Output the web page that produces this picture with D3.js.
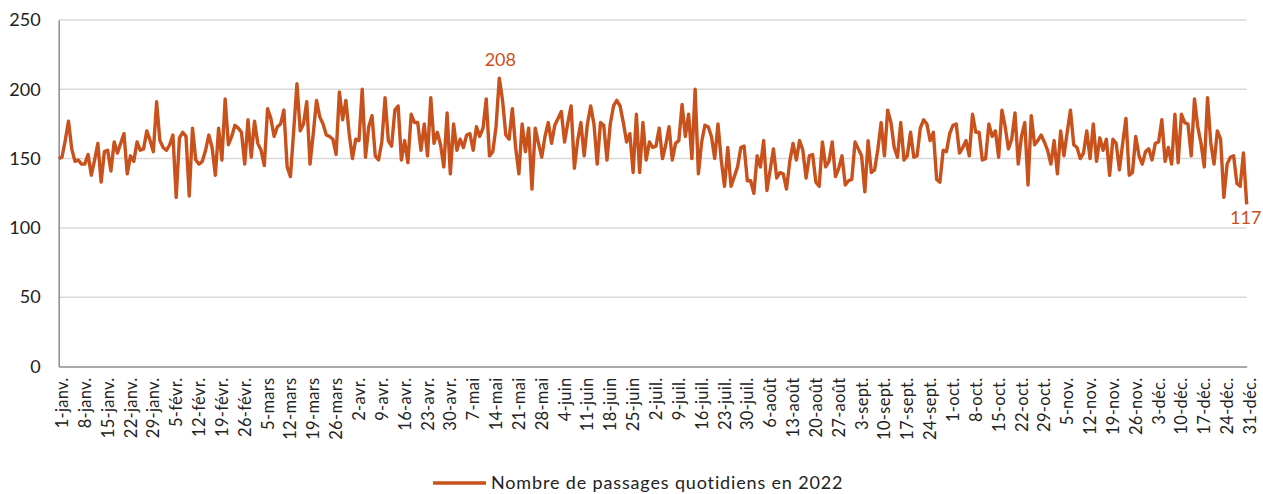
<!DOCTYPE html>
<html><head><meta charset="utf-8">
<script src="https://cdn.jsdelivr.net/npm/d3@7"></script>
<style>
body{margin:0;background:#fff;}
svg{display:block;font-family:Lato,"Open Sans",sans-serif;}
</style>
</head><body>
<svg id="chart" width="1263" height="494"></svg>
<script>
// Daily values, one array per month (2022)
const janv=[150,151,163,177,157,148,149,146,146,153,138,149,161,133,155,156,141,162,154,161,168,139,152,148,162,156,157,170,163,155,191];
const fevr=[163,158,156,160,167,122,165,169,166,123,172,149,146,148,156,167,158,138,172,149,193,160,166,174,172,169,146,178];
const mars=[151,177,161,156,145,186,179,166,173,175,185,144,137,170,204,170,175,191,146,168,192,180,175,167,166,164,153,198,178,192,168];
const avr=[150,164,163,200,151,173,181,152,149,162,194,163,159,185,188,149,163,147,182,176,176,156,175,152,194,161,169,160,144,183];
const mai=[139,175,156,164,158,167,168,156,173,166,172,193,152,155,173,208,192,167,164,186,158,139,175,155,172,128,172,161,151,166,176];
const juin=[161,174,179,184,162,176,188,143,163,176,152,175,188,175,146,176,174,149,175,188,192,188,176,162,168,140,182,140,176,149];
const juil=[162,158,159,172,150,160,173,149,161,163,189,166,182,150,200,139,162,174,173,166,150,175,149,130,158,130,137,144,158,159,134];
const aout=[134,125,152,144,163,127,142,157,136,140,139,128,148,161,149,163,156,136,152,153,133,130,162,144,148,162,137,143,152,131,134];
const sept=[135,162,157,152,126,163,140,142,157,176,152,185,176,158,151,176,149,152,169,151,152,172,178,175,163,169,135,133,156,155];
const oct=[168,174,175,154,158,163,152,182,169,169,149,150,175,166,170,151,185,173,157,164,183,146,166,176,131,181,160,163,167,162,156];
const nov=[146,163,139,170,152,169,185,160,158,150,154,170,150,175,148,165,156,164,138,164,161,142,161,179,138,140,166,152,146,155];
const dec=[157,149,161,162,178,148,158,146,182,147,182,176,175,152,193,173,161,144,194,161,146,170,164,122,146,151,152,132,130,154,117];

const tickLabels=["1-janv.","8-janv.","15-janv.","22-janv.","29-janv.","5-févr.","12-févr.","19-févr.","26-févr.","5-mars","12-mars","19-mars","26-mars","2-avr.","9-avr.","16-avr.","23-avr.","30-avr.","7-mai","14-mai","21-mai","28-mai","4-juin","11-juin","18-juin","25-juin","2-juil.","9-juil.","16-juil.","23-juil.","30-juil.","6-août","13-août","20-août","27-août","3-sept.","10-sept.","17-sept.","24-sept.","1-oct.","8-oct.","15-oct.","22-oct.","29-oct.","5-nov.","12-nov.","19-nov.","26-nov.","3-déc.","10-déc.","17-déc.","24-déc.","31-déc."];
const yTicks=[0,50,100,150,200,250];
const seriesName="Nombre de passages quotidiens en 2022";
const annotated=[{label:"208"},{label:"117"}];

const values=[].concat(janv,fevr,mars,avr,mai,juin,juil,aout,sept,oct,nov,dec);

const color="#c9511c";
const svg=d3.select("#chart");
const x=d3.scaleLinear().domain([0,values.length-1]).range([58.7,1246.7]);
const y=d3.scaleLinear().domain([0,250]).range([366.5,20]);

// gridlines
svg.append("g").selectAll("line").data(yTicks.filter(d=>d>0)).join("line")
  .attr("x1",x(0)).attr("x2",x(values.length-1))
  .attr("y1",d=>y(d)).attr("y2",d=>y(d))
  .attr("stroke","#d9d9d9").attr("stroke-width",1.5);

// y axis
const ya=svg.append("g").attr("transform",`translate(${x(0)},0)`)
  .call(d3.axisLeft(y).tickValues(yTicks).tickSize(0).tickPadding(18));
ya.select(".domain").attr("stroke","#8c8c8c").attr("stroke-width",1.5);
ya.selectAll("text").attr("font-size",18).attr("fill","#222").attr("font-family","Lato");

// x axis
const tickIdx=tickLabels.map((d,i)=>i*7);
const xa=svg.append("g").attr("transform",`translate(0,${y(0)})`)
  .call(d3.axisBottom(x).tickValues(tickIdx).tickFormat((d,i)=>tickLabels[i]).tickSize(0));
xa.select(".domain").attr("stroke","#8c8c8c").attr("stroke-width",1.5);
xa.selectAll("text")
  .attr("font-size",16.5).attr("fill","#222").attr("font-family","Lato")
  .attr("letter-spacing",0.3)
  .attr("transform","rotate(-90)")
  .attr("x",-11).attr("y",3).attr("dy","0.35em")
  .style("text-anchor","end");

// line
svg.append("path").datum(values)
  .attr("fill","none").attr("stroke",color).attr("stroke-width",3.4)
  .attr("stroke-linejoin","round")
  .attr("d",d3.line().x((d,i)=>x(i)).y(d=>y(d)));

// annotations: max and last
const iMax=d3.maxIndex(values);
const iLast=values.length-1;
svg.append("text").attr("x",x(iMax)+1).attr("y",y(values[iMax])-12)
  .attr("text-anchor","middle").attr("font-size",18).attr("fill",color)
  .text(annotated[0].label);
svg.append("text").attr("x",x(iLast)-1).attr("y",y(values[iLast])+20)
  .attr("text-anchor","middle").attr("font-size",18).attr("fill",color)
  .text(annotated[1].label);

// legend
const lg=svg.append("g").attr("transform","translate(433,483)");
lg.append("line").attr("x1",0).attr("x2",53).attr("y1",0).attr("y2",0)
  .attr("stroke",color).attr("stroke-width",3.5);
lg.append("text").attr("x",58).attr("y",0).attr("dy","0.35em")
  .attr("font-size",18).attr("letter-spacing",0.85).attr("fill","#222").text(seriesName);
</script>
</body></html>
